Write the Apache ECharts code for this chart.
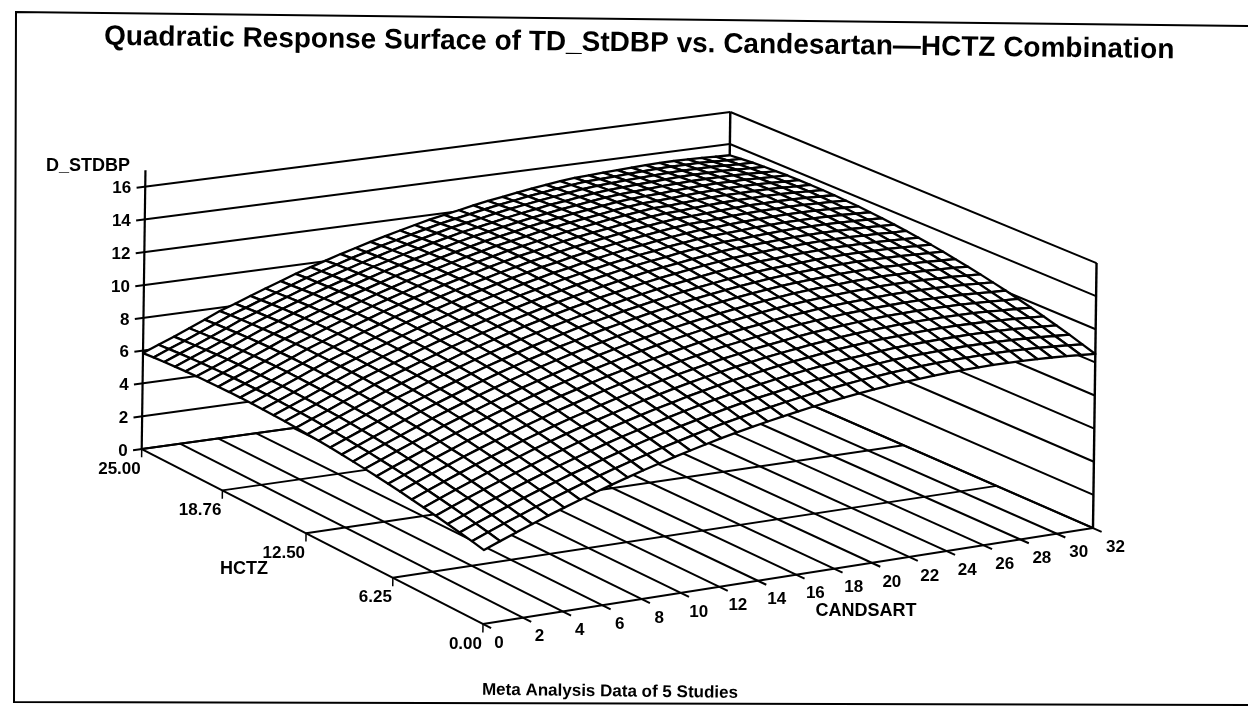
<!DOCTYPE html>
<html>
<head>
<meta charset="utf-8">
<style>
html, body { margin: 0; padding: 0; background: #fff; }
#chart { width: 1248px; height: 706px; }
</style>
<script src="https://cdn.jsdelivr.net/npm/echarts@6/dist/echarts.min.js"></script>
</head>
<body>
<div id="chart"></div>
<script>
var candsartGrid = [0, 0.8, 1.6, 2.4, 3.2, 4, 4.8, 5.6, 6.4, 7.2, 8, 8.8, 9.6, 10.4, 11.2, 12, 12.8, 13.6, 14.4, 15.2, 16, 16.8, 17.6, 18.4, 19.2, 20, 20.8, 21.6, 22.4, 23.2, 24, 24.8, 25.6, 26.4, 27.2, 28, 28.8, 29.6, 30.4, 31.2, 32]
var hctzGrid = [0, 0.83, 1.67, 2.5, 3.33, 4.17, 5, 5.83, 6.67, 7.5, 8.33, 9.17, 10, 10.83, 11.67, 12.5, 13.33, 14.17, 15, 15.83, 16.67, 17.5, 18.33, 19.17, 20, 20.83, 21.67, 22.5, 23.33, 24.17, 25]
// surface height, one row per hctzGrid value
var tdStdbp = [
  [4.36, 4.74, 5.11, 5.46, 5.81, 6.14, 6.46, 6.78, 7.07, 7.36, 7.64, 7.90, 8.15, 8.39, 8.62, 8.84, 9.05, 9.24, 9.42, 9.59, 9.75, 9.90, 10.04, 10.16, 10.27, 10.38, 10.47, 10.54, 10.61, 10.67, 10.71, 10.74, 10.76, 10.77, 10.77, 10.75, 10.73, 10.69, 10.64, 10.58, 10.51],
  [4.52, 4.90, 5.27, 5.62, 5.97, 6.31, 6.63, 6.95, 7.25, 7.54, 7.82, 8.08, 8.34, 8.58, 8.81, 9.04, 9.25, 9.44, 9.62, 9.79, 9.96, 10.11, 10.25, 10.37, 10.49, 10.60, 10.69, 10.77, 10.84, 10.90, 10.94, 10.97, 11.00, 11.01, 11.01, 11.00, 10.98, 10.94, 10.89, 10.83, 10.76],
  [4.67, 5.05, 5.42, 5.78, 6.13, 6.47, 6.80, 7.12, 7.41, 7.71, 7.99, 8.26, 8.52, 8.77, 9.00, 9.22, 9.44, 9.64, 9.83, 10.00, 10.15, 10.31, 10.45, 10.58, 10.69, 10.81, 10.91, 10.98, 11.06, 11.12, 11.16, 11.20, 11.22, 11.24, 11.24, 11.22, 11.20, 11.17, 11.12, 11.06, 11.01],
  [4.81, 5.19, 5.57, 5.92, 6.28, 6.62, 6.95, 7.27, 7.57, 7.86, 8.16, 8.43, 8.68, 8.93, 9.17, 9.40, 9.62, 9.82, 10.00, 10.18, 10.34, 10.50, 10.64, 10.77, 10.89, 11.00, 11.10, 11.18, 11.26, 11.33, 11.37, 11.41, 11.44, 11.45, 11.46, 11.45, 11.43, 11.40, 11.35, 11.30, 11.24],
  [4.94, 5.33, 5.71, 6.07, 6.42, 6.77, 7.10, 7.43, 7.73, 8.03, 8.32, 8.59, 8.85, 9.10, 9.34, 9.56, 9.79, 9.99, 10.18, 10.36, 10.52, 10.68, 10.83, 10.96, 11.08, 11.19, 11.30, 11.38, 11.46, 11.53, 11.57, 11.61, 11.65, 11.67, 11.67, 11.66, 11.64, 11.61, 11.57, 11.52, 11.46],
  [5.07, 5.46, 5.84, 6.20, 6.56, 6.91, 7.24, 7.57, 7.88, 8.18, 8.46, 8.74, 9.00, 9.25, 9.50, 9.72, 9.94, 10.15, 10.34, 10.52, 10.69, 10.85, 11.00, 11.13, 11.25, 11.37, 11.47, 11.56, 11.64, 11.71, 11.76, 11.80, 11.83, 11.85, 11.86, 11.85, 11.84, 11.80, 11.76, 11.71, 11.67],
  [5.19, 5.58, 5.96, 6.33, 6.69, 7.04, 7.37, 7.70, 8.01, 8.31, 8.60, 8.87, 9.14, 9.40, 9.64, 9.87, 10.09, 10.30, 10.49, 10.68, 10.85, 11.00, 11.16, 11.29, 11.41, 11.54, 11.64, 11.73, 11.81, 11.88, 11.94, 11.99, 12.02, 12.04, 12.05, 12.04, 12.03, 12.00, 11.96, 11.91, 11.87],
  [5.31, 5.70, 6.08, 6.45, 6.81, 7.16, 7.49, 7.82, 8.14, 8.44, 8.74, 9.01, 9.28, 9.54, 9.78, 10.01, 10.23, 10.44, 10.64, 10.82, 11.00, 11.16, 11.30, 11.44, 11.57, 11.70, 11.81, 11.90, 11.98, 12.05, 12.10, 12.15, 12.18, 12.21, 12.22, 12.22, 12.20, 12.18, 12.14, 12.09, 12.06],
  [5.41, 5.80, 6.18, 6.55, 6.91, 7.28, 7.61, 7.94, 8.26, 8.56, 8.86, 9.14, 9.40, 9.67, 9.92, 10.14, 10.37, 10.57, 10.77, 10.96, 11.14, 11.30, 11.45, 11.59, 11.71, 11.85, 11.96, 12.05, 12.14, 12.21, 12.26, 12.31, 12.35, 12.38, 12.39, 12.39, 12.38, 12.36, 12.33, 12.28, 12.23],
  [5.51, 5.90, 6.28, 6.65, 7.02, 7.38, 7.72, 8.05, 8.37, 8.68, 8.97, 9.25, 9.52, 9.79, 10.04, 10.27, 10.50, 10.71, 10.91, 11.10, 11.27, 11.44, 11.59, 11.73, 11.86, 11.99, 12.10, 12.20, 12.29, 12.36, 12.41, 12.46, 12.51, 12.54, 12.56, 12.55, 12.55, 12.52, 12.49, 12.45, 12.40],
  [5.60, 5.99, 6.37, 6.75, 7.11, 7.48, 7.82, 8.14, 8.47, 8.78, 9.08, 9.36, 9.62, 9.89, 10.14, 10.38, 10.60, 10.82, 11.03, 11.22, 11.39, 11.56, 11.72, 11.86, 11.99, 12.12, 12.23, 12.33, 12.43, 12.50, 12.55, 12.60, 12.65, 12.68, 12.70, 12.69, 12.69, 12.67, 12.64, 12.60, 12.55],
  [5.68, 6.08, 6.46, 6.83, 7.20, 7.57, 7.91, 8.24, 8.56, 8.87, 9.18, 9.47, 9.74, 10.00, 10.25, 10.49, 10.70, 10.92, 11.12, 11.32, 11.50, 11.67, 11.83, 11.98, 12.11, 12.24, 12.36, 12.46, 12.55, 12.63, 12.68, 12.73, 12.78, 12.81, 12.83, 12.83, 12.81, 12.80, 12.77, 12.73, 12.69],
  [5.76, 6.15, 6.53, 6.91, 7.28, 7.65, 7.99, 8.32, 8.65, 8.96, 9.27, 9.55, 9.83, 10.09, 10.35, 10.58, 10.82, 11.03, 11.23, 11.43, 11.61, 11.78, 11.94, 12.09, 12.23, 12.35, 12.47, 12.57, 12.67, 12.75, 12.80, 12.85, 12.90, 12.94, 12.96, 12.95, 12.95, 12.93, 12.90, 12.87, 12.83],
  [5.83, 6.22, 6.60, 6.98, 7.36, 7.73, 8.06, 8.40, 8.72, 9.04, 9.35, 9.63, 9.91, 10.18, 10.43, 10.67, 10.91, 11.12, 11.32, 11.52, 11.70, 11.87, 12.04, 12.19, 12.32, 12.45, 12.58, 12.68, 12.78, 12.86, 12.90, 12.96, 13.01, 13.05, 13.07, 13.07, 13.06, 13.05, 13.02, 12.98, 12.95],
  [5.89, 6.28, 6.66, 7.04, 7.42, 7.79, 8.13, 8.47, 8.79, 9.11, 9.42, 9.71, 9.98, 10.26, 10.51, 10.75, 10.98, 11.20, 11.40, 11.60, 11.79, 11.96, 12.13, 12.28, 12.41, 12.54, 12.67, 12.78, 12.88, 12.95, 13.00, 13.06, 13.10, 13.14, 13.17, 13.17, 13.16, 13.15, 13.12, 13.09, 13.06],
  [5.94, 6.33, 6.71, 7.09, 7.47, 7.85, 8.19, 8.53, 8.86, 9.17, 9.49, 9.77, 10.05, 10.32, 10.58, 10.82, 11.05, 11.27, 11.48, 11.68, 11.86, 12.04, 12.21, 12.36, 12.50, 12.63, 12.76, 12.87, 12.97, 13.04, 13.09, 13.15, 13.19, 13.23, 13.26, 13.26, 13.26, 13.24, 13.22, 13.18, 13.16],
  [5.99, 6.37, 6.76, 7.14, 7.52, 7.91, 8.25, 8.58, 8.91, 9.22, 9.54, 9.83, 10.11, 10.38, 10.64, 10.88, 11.12, 11.34, 11.55, 11.75, 11.93, 12.11, 12.28, 12.44, 12.58, 12.70, 12.83, 12.94, 13.05, 13.13, 13.17, 13.23, 13.27, 13.31, 13.34, 13.35, 13.34, 13.33, 13.31, 13.27, 13.24],
  [6.03, 6.41, 6.79, 7.18, 7.56, 7.95, 8.29, 8.62, 8.95, 9.27, 9.59, 9.88, 10.16, 10.43, 10.69, 10.93, 11.17, 11.39, 11.60, 11.81, 11.99, 12.17, 12.34, 12.50, 12.64, 12.76, 12.90, 13.01, 13.11, 13.19, 13.23, 13.29, 13.34, 13.38, 13.41, 13.42, 13.42, 13.41, 13.38, 13.35, 13.32],
  [6.06, 6.44, 6.82, 7.21, 7.60, 7.98, 8.32, 8.66, 8.99, 9.31, 9.63, 9.92, 10.20, 10.47, 10.73, 10.98, 11.22, 11.44, 11.65, 11.86, 12.04, 12.22, 12.39, 12.55, 12.69, 12.81, 12.95, 13.06, 13.17, 13.25, 13.29, 13.35, 13.40, 13.44, 13.47, 13.48, 13.48, 13.47, 13.45, 13.41, 13.38],
  [6.08, 6.46, 6.84, 7.23, 7.62, 8.01, 8.35, 8.69, 9.02, 9.34, 9.66, 9.95, 10.23, 10.51, 10.77, 11.01, 11.25, 11.48, 11.69, 11.90, 12.07, 12.26, 12.43, 12.59, 12.73, 12.86, 12.99, 13.11, 13.21, 13.30, 13.34, 13.40, 13.45, 13.49, 13.52, 13.53, 13.54, 13.53, 13.50, 13.47, 13.44],
  [6.10, 6.48, 6.86, 7.25, 7.64, 8.03, 8.37, 8.71, 9.04, 9.36, 9.69, 9.98, 10.26, 10.54, 10.80, 11.04, 11.28, 11.51, 11.72, 11.93, 12.10, 12.29, 12.46, 12.62, 12.76, 12.89, 13.02, 13.14, 13.25, 13.34, 13.37, 13.43, 13.49, 13.53, 13.56, 13.57, 13.58, 13.57, 13.55, 13.52, 13.48],
  [6.11, 6.49, 6.87, 7.26, 7.65, 8.04, 8.39, 8.73, 9.06, 9.38, 9.70, 9.99, 10.28, 10.56, 10.82, 11.06, 11.30, 11.53, 11.74, 11.95, 12.12, 12.31, 12.48, 12.64, 12.78, 12.91, 13.05, 13.17, 13.28, 13.37, 13.40, 13.46, 13.51, 13.56, 13.59, 13.60, 13.61, 13.61, 13.58, 13.55, 13.51],
  [6.11, 6.49, 6.87, 7.27, 7.66, 8.05, 8.40, 8.74, 9.07, 9.39, 9.71, 10.00, 10.29, 10.57, 10.83, 11.07, 11.31, 11.54, 11.76, 11.97, 12.14, 12.33, 12.50, 12.66, 12.80, 12.93, 13.07, 13.19, 13.30, 13.39, 13.42, 13.48, 13.54, 13.58, 13.61, 13.62, 13.63, 13.63, 13.60, 13.57, 13.53],
  [6.10, 6.49, 6.87, 7.26, 7.65, 8.04, 8.39, 8.74, 9.07, 9.39, 9.70, 10.00, 10.28, 10.56, 10.82, 11.07, 11.31, 11.54, 11.76, 11.97, 12.14, 12.32, 12.50, 12.66, 12.80, 12.93, 13.07, 13.19, 13.30, 13.39, 13.42, 13.48, 13.53, 13.58, 13.61, 13.62, 13.63, 13.63, 13.61, 13.57, 13.54],
  [6.09, 6.47, 6.85, 7.24, 7.64, 8.03, 8.38, 8.73, 9.06, 9.38, 9.69, 9.99, 10.27, 10.55, 10.81, 11.06, 11.30, 11.53, 11.75, 11.96, 12.13, 12.31, 12.49, 12.65, 12.79, 12.92, 13.05, 13.18, 13.29, 13.38, 13.42, 13.47, 13.53, 13.57, 13.60, 13.62, 13.63, 13.62, 13.60, 13.56, 13.54],
  [6.07, 6.45, 6.83, 7.22, 7.62, 8.01, 8.36, 8.71, 9.04, 9.37, 9.68, 9.97, 10.26, 10.54, 10.79, 11.04, 11.28, 11.51, 11.73, 11.94, 12.11, 12.29, 12.47, 12.63, 12.77, 12.91, 13.03, 13.16, 13.27, 13.36, 13.40, 13.45, 13.51, 13.55, 13.59, 13.61, 13.61, 13.61, 13.58, 13.55, 13.53],
  [6.04, 6.42, 6.80, 7.19, 7.59, 7.98, 8.33, 8.68, 9.01, 9.34, 9.65, 9.94, 10.23, 10.51, 10.76, 11.01, 11.25, 11.49, 11.71, 11.92, 12.09, 12.26, 12.44, 12.60, 12.74, 12.88, 13.00, 13.13, 13.24, 13.33, 13.38, 13.43, 13.48, 13.52, 13.56, 13.58, 13.58, 13.58, 13.55, 13.52, 13.50],
  [6.00, 6.38, 6.76, 7.15, 7.55, 7.95, 8.29, 8.64, 8.97, 9.30, 9.61, 9.90, 10.19, 10.47, 10.72, 10.98, 11.22, 11.45, 11.67, 11.88, 12.05, 12.22, 12.40, 12.56, 12.70, 12.85, 12.96, 13.09, 13.20, 13.29, 13.34, 13.39, 13.44, 13.48, 13.52, 13.55, 13.55, 13.55, 13.52, 13.49, 13.47],
  [5.96, 6.34, 6.71, 7.10, 7.50, 7.90, 8.24, 8.59, 8.92, 9.25, 9.57, 9.86, 10.14, 10.42, 10.67, 10.93, 11.17, 11.40, 11.62, 11.84, 12.01, 12.18, 12.36, 12.52, 12.66, 12.80, 12.92, 13.05, 13.16, 13.25, 13.30, 13.35, 13.40, 13.44, 13.48, 13.50, 13.50, 13.50, 13.47, 13.44, 13.43],
  [5.91, 6.29, 6.66, 7.05, 7.45, 7.85, 8.18, 8.53, 8.86, 9.19, 9.52, 9.81, 10.09, 10.37, 10.62, 10.88, 11.11, 11.34, 11.56, 11.78, 11.95, 12.12, 12.30, 12.46, 12.60, 12.75, 12.87, 13.00, 13.11, 13.20, 13.24, 13.29, 13.34, 13.38, 13.42, 13.45, 13.45, 13.45, 13.42, 13.39, 13.37],
  [5.85, 6.23, 6.60, 6.99, 7.39, 7.79, 8.12, 8.47, 8.80, 9.13, 9.46, 9.75, 10.03, 10.31, 10.56, 10.82, 11.05, 11.28, 11.50, 11.72, 11.89, 12.06, 12.24, 12.40, 12.54, 12.68, 12.81, 12.93, 13.05, 13.14, 13.18, 13.23, 13.28, 13.32, 13.36, 13.38, 13.39, 13.38, 13.36, 13.33, 13.30]
]
var candsartTicks = [0, 2, 4, 6, 8, 10, 12, 14, 16, 18, 20, 22, 24, 26, 28, 30, 32]
var hctzTicks = [0, 6.25, 12.5, 18.75, 25]
var hctzLabels = ['0.00', '6.25', '12.50', '18.76', '25.00']
var zTicks = [0, 2, 4, 6, 8, 10, 12, 14, 16]

var X_MAX = 32, Y_MAX = 25, Z_TOP = 17
var g = 0.0549, h = 0.0768, skew = 0.0134

// box corners on the page give the floor perspective, height scale shrinks to the back
function project(x, y, z) {
  var u = x / X_MAX, v = y / Y_MAX
  var w = 1 + g * u + h * v
  var px = (483 + 670 * u - 330.4 * v) / w
  var py = (624 - 67 * u - 140.5 * v) / w
  var dz = z * (16.96 - 0.4 * u - 0.56 * v)
  return [px + dz * skew, py - dz]
}

// frame segments: [x0, y0, z0, x1, y1, z1, width]
var segments = []
zTicks.forEach(function (z) {
  segments.push([-0.45, Y_MAX, z, X_MAX, Y_MAX, z, 2])
  segments.push([X_MAX, Y_MAX, z, X_MAX, 0, z, 2])
})
candsartTicks.forEach(function (x) {
  segments.push([x, Y_MAX, 0, x, -0.55, 0, 2])
})
hctzTicks.forEach(function (y) {
  segments.push([0, y, 0, X_MAX, y, 0, 2])
  segments.push([0, y, 0, 0, y, -0.5, 1.5])
})
segments.push([0, Y_MAX, 0, 0, Y_MAX, Z_TOP, 2.2])
segments.push([X_MAX, Y_MAX, 0, X_MAX, Y_MAX, 16, 2.4])
segments.push([X_MAX, 0, 0, X_MAX, 0, 16, 2.4])

var cells = []
for (var j = hctzGrid.length - 2; j >= 0; j--) {
  for (var i = candsartGrid.length - 2; i >= 0; i--) cells.push([i, j])
}

// tick and axis names: [px, py, text, align, size]
var labels = []
zTicks.forEach(function (z) {
  var p = project(0, Y_MAX, z)
  labels.push([p[0] - 14, p[1] + 2, String(z), 'right', 17])
})
hctzTicks.forEach(function (y, k) {
  var p = project(0, y, 0)
  labels.push([p[0] - 1, p[1] + 20, hctzLabels[k], 'right', 17])
})
candsartTicks.forEach(function (x) {
  var p = project(x, 0, 0)
  labels.push([p[0] + 16 + x / 5, p[1] + 19, String(x), 'center', 17])
})
labels.push([130, 166, 'D_STDBP', 'right', 18])
labels.push([268, 569, 'HCTZ', 'right', 18])
labels.push([866, 611, 'CANDSART', 'center', 18])

var chart = echarts.init(document.getElementById('chart'))
chart.setOption({
  animation: false,
  backgroundColor: '#fff',
  grid: { left: 0, right: 0, top: 0, bottom: 0 },
  xAxis: { type: 'value', min: 0, max: 1248, show: false },
  yAxis: { type: 'value', min: 0, max: 706, inverse: true, show: false },
  graphic: [
    {
      type: 'polyline', silent: true,
      shape: { points: [[1248, 26], [16, 12], [14, 702], [1248, 705]] },
      style: { stroke: '#000', lineWidth: 2, fill: null }
    },
    {
      type: 'text', silent: true, x: 104, y: 37, rotation: -0.0125,
      style: {
        text: 'Quadratic Response Surface of TD_StDBP vs. Candesartan\u2014HCTZ Combination',
        font: 'bold 28px "Liberation Sans"', fill: '#000', verticalAlign: 'middle'
      }
    },
    {
      type: 'text', silent: true, x: 482, y: 690, rotation: -0.0125,
      style: {
        text: 'Meta Analysis Data of 5 Studies',
        font: 'bold 17px "Liberation Sans"', fill: '#000', verticalAlign: 'middle'
      }
    }
  ],
  series: [
    {
      type: 'custom', coordinateSystem: 'cartesian2d', silent: true, clip: false,
      data: segments,
      renderItem: function (params, api) {
        var a = api.coord(project(api.value(0), api.value(1), api.value(2)))
        var b = api.coord(project(api.value(3), api.value(4), api.value(5)))
        return {
          type: 'line',
          shape: { x1: a[0], y1: a[1], x2: b[0], y2: b[1] },
          style: { stroke: '#000', lineWidth: api.value(6), fill: null }
        }
      },
      z: 1
    },
    {
      type: 'custom', coordinateSystem: 'cartesian2d', silent: true, clip: false,
      progressive: 0,
      data: cells,
      renderItem: function (params, api) {
        var i = api.value(0), j = api.value(1)
        var pts = [[i, j], [i + 1, j], [i + 1, j + 1], [i, j + 1]].map(function (n) {
          return api.coord(project(candsartGrid[n[0]], hctzGrid[n[1]], tdStdbp[n[1]][n[0]]))
        })
        return {
          type: 'polygon',
          shape: { points: pts },
          style: { fill: '#fff', stroke: '#000', lineWidth: 2.3, lineJoin: 'round' }
        }
      },
      z: 2
    },
    {
      type: 'custom', coordinateSystem: 'cartesian2d', silent: true, clip: false,
      data: labels.map(function (l) { return [l[0], l[1]] }),
      renderItem: function (params, api) {
        var l = labels[params.dataIndex]
        var p = api.coord([l[0], l[1]])
        return {
          type: 'text',
          x: p[0], y: p[1],
          style: {
            text: l[2], fill: '#000', align: l[3], verticalAlign: 'middle',
            font: 'bold ' + l[4] + 'px "Liberation Sans"'
          }
        }
      },
      z: 3
    }
  ]
})
</script>
</body>
</html>
